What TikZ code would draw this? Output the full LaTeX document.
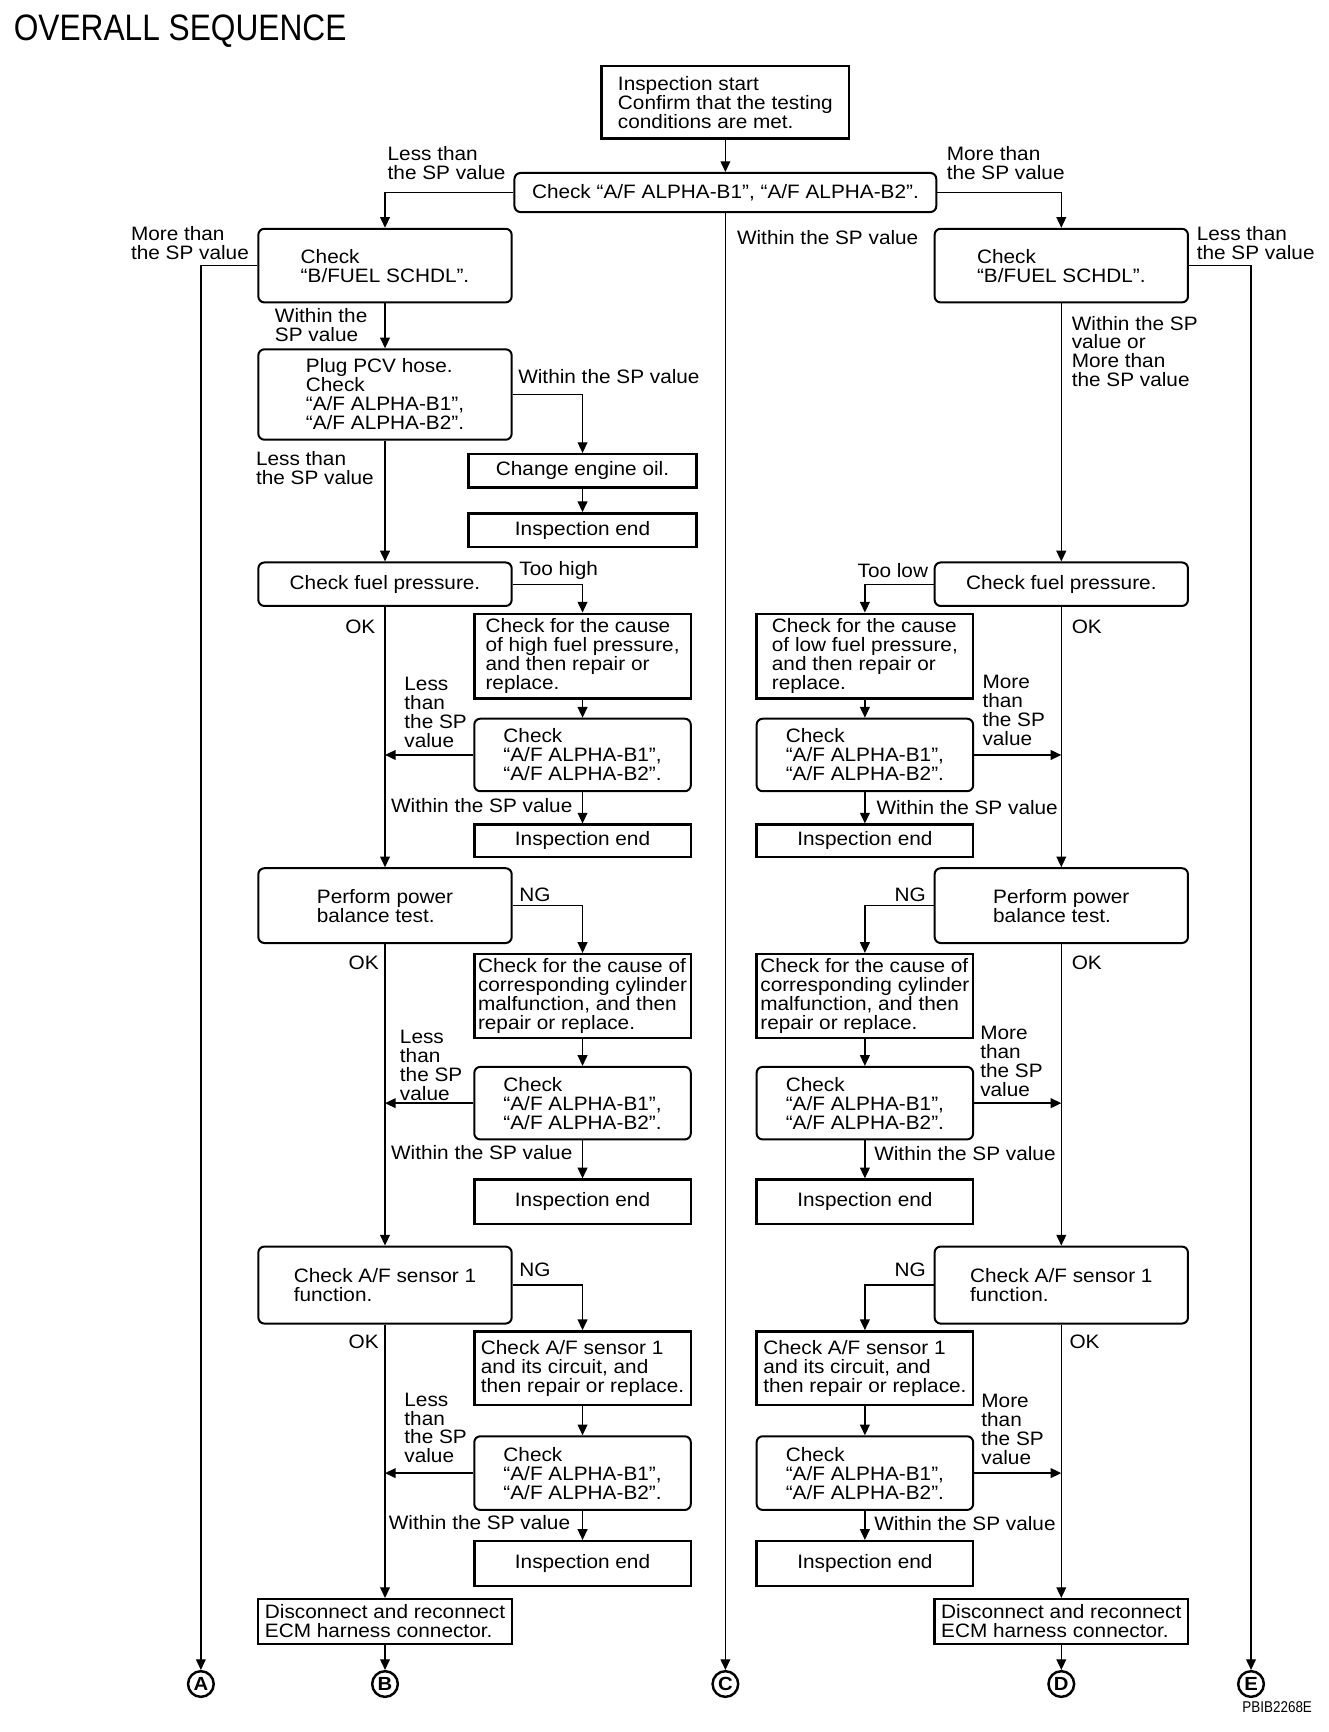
\documentclass[tikz,border=0pt]{standalone}
\usepackage{fontspec}
\setmainfont{Liberation Sans}[FakeStretch=1.07]
\newfontfamily\titlefont{Liberation Sans}[FakeStretch=0.86]
\usetikzlibrary{arrows.meta}

\begin{document}
\begin{tikzpicture}[x=0.5pt,y=-0.5pt,
  font=\fontsize{8.7}{8.5}\selectfont,
  rbox/.style={draw, line width=0.9pt, rounded corners=2.7pt, align=left, inner sep=1pt},
  sbox/.style={draw, line width=1.1pt, align=left, inner sep=1pt},
  lbl/.style={align=left, inner sep=0pt, anchor=west},
  rlbl/.style={align=right, inner sep=0pt, anchor=east},
  arr/.style={line width=0.6pt, -{Triangle[length=4.8pt,width=4.4pt]}},
  harr/.style={line width=0.7pt, -{Triangle[length=4.8pt,width=4.4pt]}},
  letter/.style={circle, draw, line width=1.1pt, inner sep=0pt, minimum size=11.5pt, font=\fontsize{8.5}{8.5}\selectfont\bfseries}]
\useasboundingbox (0,0) rectangle (1190,1552);
\node[anchor=west, inner sep=0pt, font=\titlefont\fontsize{16.5}{16.5}\selectfont] (title) at (12,28) {OVERALL SEQUENCE};
\node[sbox, minimum width=111pt, minimum height=32.5pt] (start) at (650,91.5) {Inspection start\\Confirm that the testing\\conditions are met.};
\node[rbox, minimum width=189pt, minimum height=17.5pt] (alpha) at (650,172.5) {Check “A/F ALPHA-B1”, “A/F ALPHA-B2”.};
\draw[arr](start) -- (alpha);
\node[lbl] (t1) at (347,146.5) {Less than\\the SP value};
\node[lbl] (t2) at (848,146.5) {More than\\the SP value};
\node[lbl] (t3) at (660,213) {Within the SP value};
\node[rbox, minimum width=113.5pt, minimum height=33pt] (fuelL) at (345,238) {Check\\“B/FUEL SCHDL”.};
\node[rbox, minimum width=113.5pt, minimum height=33pt] (fuelR) at (951,238) {Check\\“B/FUEL SCHDL”.};
\node[lbl] (t4) at (117,217.5) {More than\\the SP value};
\node[lbl] (t5) at (1072,217.5) {Less than\\the SP value};
\node[letter] (cA) at (180,1509) {A};
\node[letter] (cB) at (345,1509) {B};
\node[letter] (cC) at (650,1509) {C};
\node[letter] (cD) at (951,1509) {D};
\node[letter] (cE) at (1121,1509) {E};
\draw[arr](alpha.west) -| (fuelL.north);
\draw[arr](alpha.east) -| (fuelR.north);
\draw[arr](alpha) -- (cC);
\draw[arr](fuelL.west) -| (cA.north);
\draw[arr](fuelR.east) -| (cE.north);
\node[lbl] (t6) at (246,291.5) {Within the\\SP value};
\node[rbox, minimum width=113.5pt, minimum height=40.5pt] (pcv) at (345,353.5) {Plug PCV hose.\\Check\\“A/F ALPHA-B1”,\\“A/F ALPHA-B2”.};
\node[lbl] (t7) at (464,337) {Within the SP value};
\node[sbox, minimum width=102pt, minimum height=15pt] (oil) at (522,422) {Change engine oil.};
\node[sbox, minimum width=102pt, minimum height=15pt] (endO) at (522,475) {Inspection end};
\node[lbl] (t8) at (229,419.5) {Less than\\the SP value};
\draw[arr](fuelL) -- (pcv);
\draw[arr](pcv.east) -| (oil.north);
\draw[arr](oil) -- (endO);
\node[rbox, minimum width=113.5pt, minimum height=19.5pt] (pressL) at (345,523.5) {Check fuel pressure.};
\draw[arr](pcv) -- (pressL);
\node[lbl] (t9) at (465,511) {Too high};
\node[sbox, minimum width=97pt, minimum height=38pt] (highP) at (522,588) {Check for the cause\\of high fuel pressure,\\and then repair or\\replace.};
\node[rbox, minimum width=97pt, minimum height=32.5pt] (alphaL1) at (522,676.5) {Check\\“A/F ALPHA-B1”,\\“A/F ALPHA-B2”.};
\node[sbox, minimum width=97pt, minimum height=14.5pt] (endL1) at (522,753.5) {Inspection end};
\node[lbl] (t10) at (309,562) {OK};
\node[lbl] (t11) at (362,638.5) {Less\\than\\the SP\\value};
\node[lbl] (t12) at (350,722) {Within the SP value};
\draw[arr](pressL.east) -| (highP.north);
\draw[arr](highP) -- (alphaL1);
\draw[harr](alphaL1.west) -- (alphaL1.west -| pressL);
\draw[arr](alphaL1) -- (endL1);
\node[rbox, minimum width=113.5pt, minimum height=33.5pt] (powerL) at (345,811.5) {Perform power\\balance test.};
\draw[arr](pressL) -- (powerL);
\node[lbl] (t13) at (465,802) {NG};
\node[sbox, minimum width=97pt, minimum height=37.5pt] (cylL) at (522,892.5) {Check for the cause of\\corresponding cylinder\\malfunction, and then\\repair or replace.};
\node[rbox, minimum width=97pt, minimum height=32.5pt] (alphaL2) at (522,988.5) {Check\\“A/F ALPHA-B1”,\\“A/F ALPHA-B2”.};
\node[sbox, minimum width=97pt, minimum height=20pt] (endL2) at (522,1077) {Inspection end};
\node[lbl] (t14) at (312,863) {OK};
\node[lbl] (t15) at (358,954.5) {Less\\than\\the SP\\value};
\node[lbl] (t16) at (350,1033) {Within the SP value};
\draw[arr](powerL.east) -| (cylL.north);
\draw[arr](cylL) -- (alphaL2);
\draw[harr](alphaL2.west) -- (alphaL2.west -| powerL);
\draw[arr](alphaL2) -- (endL2);
\node[rbox, minimum width=113.5pt, minimum height=34.5pt] (sensL) at (345,1151.5) {Check A/F sensor 1\\function.};
\draw[arr](powerL) -- (sensL);
\node[lbl] (t17) at (465,1138) {NG};
\node[sbox, minimum width=97pt, minimum height=33pt] (circL) at (522,1226) {Check A/F sensor 1\\and its circuit, and\\then repair or replace.};
\node[rbox, minimum width=97pt, minimum height=33pt] (alphaL3) at (522,1320) {Check\\“A/F ALPHA-B1”,\\“A/F ALPHA-B2”.};
\node[sbox, minimum width=97pt, minimum height=20pt] (endL3) at (522,1401) {Inspection end};
\node[lbl] (t18) at (312,1202) {OK};
\node[lbl] (t19) at (362,1279.5) {Less\\than\\the SP\\value};
\node[lbl] (t20) at (348,1364) {Within the SP value};
\draw[arr](sensL.east) -| (circL.north);
\draw[arr](circL) -- (alphaL3);
\draw[harr](alphaL3.west) -- (alphaL3.west -| sensL);
\draw[arr](alphaL3) -- (endL3);
\node[sbox, minimum width=114pt, minimum height=20pt] (ecmL) at (345,1453) {Disconnect and reconnect\\ECM harness connector.};
\draw[arr](sensL) -- (ecmL);
\draw[arr](ecmL) -- (cB);
\node[lbl] (t21) at (960,315) {Within the SP\\value or\\More than\\the SP value};
\node[rbox, minimum width=113.5pt, minimum height=19.5pt] (pressR) at (951,523.5) {Check fuel pressure.};
\draw[arr](fuelR) -- (pressR);
\node[rlbl] (t22) at (832,511) {Too low};
\node[sbox, minimum width=97pt, minimum height=38pt] (lowP) at (775,588) {Check for the cause\\of low fuel pressure,\\and then repair or\\replace.};
\node[rbox, minimum width=97pt, minimum height=32.5pt] (alphaR1) at (775,676.5) {Check\\“A/F ALPHA-B1”,\\“A/F ALPHA-B2”.};
\node[sbox, minimum width=97pt, minimum height=14.5pt] (endR1) at (775,753.5) {Inspection end};
\node[lbl] (t23) at (960,562) {OK};
\node[lbl] (t24) at (880,636.5) {More\\than\\the SP\\value};
\node[lbl] (t25) at (785,724) {Within the SP value};
\draw[arr](pressR.west) -| (lowP.north);
\draw[arr](lowP) -- (alphaR1);
\draw[harr](alphaR1.east) -- (alphaR1.east -| pressR);
\draw[arr](alphaR1) -- (endR1);
\node[rbox, minimum width=113.5pt, minimum height=33.5pt] (powerR) at (951,811.5) {Perform power\\balance test.};
\draw[arr](pressR) -- (powerR);
\node[rlbl] (t26) at (830,802) {NG};
\node[sbox, minimum width=97pt, minimum height=37.5pt] (cylR) at (775,892.5) {Check for the cause of\\corresponding cylinder\\malfunction, and then\\repair or replace.};
\node[rbox, minimum width=97pt, minimum height=32.5pt] (alphaR2) at (775,988.5) {Check\\“A/F ALPHA-B1”,\\“A/F ALPHA-B2”.};
\node[sbox, minimum width=97pt, minimum height=20pt] (endR2) at (775,1077) {Inspection end};
\node[lbl] (t27) at (960,863) {OK};
\node[lbl] (t28) at (878,951.5) {More\\than\\the SP\\value};
\node[lbl] (t29) at (783,1034) {Within the SP value};
\draw[arr](powerR.west) -| (cylR.north);
\draw[arr](cylR) -- (alphaR2);
\draw[harr](alphaR2.east) -- (alphaR2.east -| powerR);
\draw[arr](alphaR2) -- (endR2);
\node[rbox, minimum width=113.5pt, minimum height=34.5pt] (sensR) at (951,1151.5) {Check A/F sensor 1\\function.};
\draw[arr](powerR) -- (sensR);
\node[rlbl] (t30) at (830,1138) {NG};
\node[sbox, minimum width=97pt, minimum height=33pt] (circR) at (775,1226) {Check A/F sensor 1\\and its circuit, and\\then repair or replace.};
\node[rbox, minimum width=97pt, minimum height=33pt] (alphaR3) at (775,1320) {Check\\“A/F ALPHA-B1”,\\“A/F ALPHA-B2”.};
\node[sbox, minimum width=97pt, minimum height=20pt] (endR3) at (775,1401) {Inspection end};
\node[lbl] (t31) at (958,1202) {OK};
\node[lbl] (t32) at (879,1280.5) {More\\than\\the SP\\value};
\node[lbl] (t33) at (783,1365) {Within the SP value};
\draw[arr](sensR.west) -| (circR.north);
\draw[arr](circR) -- (alphaR3);
\draw[harr](alphaR3.east) -- (alphaR3.east -| sensR);
\draw[arr](alphaR3) -- (endR3);
\node[sbox, minimum width=113.5pt, minimum height=20pt] (ecmR) at (951,1453) {Disconnect and reconnect\\ECM harness connector.};
\draw[arr](sensR) -- (ecmR);
\draw[arr](ecmR) -- (cD);
\node[anchor=east, inner sep=0pt, font=\titlefont\fontsize{7}{7}\selectfont] (code) at (1176,1530) {PBIB2268E};
\end{tikzpicture}
\end{document}
